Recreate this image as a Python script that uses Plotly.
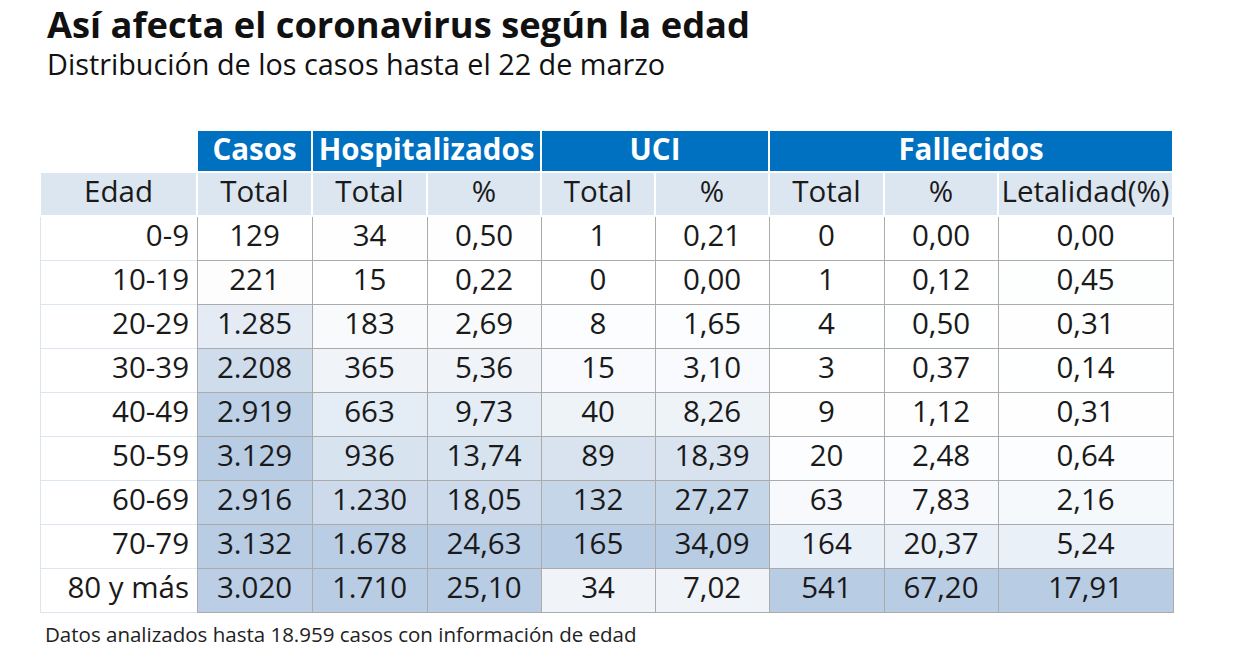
import plotly.graph_objects as go

W, H = 1240, 659
OFF = 8  # page body margin of the browser

title = "Así afecta el coronavirus según la edad"
subtitle = "Distribución de los casos hasta el 22 de marzo"
footer = "Datos analizados hasta 18.959 casos con información de edad"

groups = ["", "Casos", "Hospitalizados", "UCI", "Fallecidos"]
subheaders = ["Edad", "Total", "Total", "%", "Total", "%", "Total", "%", "Letalidad(%)"]

edad = ["0-9", "10-19", "20-29", "30-39", "40-49", "50-59", "60-69", "70-79", "80 y más"]
casos_total = [129, 221, 1285, 2208, 2919, 3129, 2916, 3132, 3020]
hosp_total = [34, 15, 183, 365, 663, 936, 1230, 1678, 1710]
hosp_pct = [0.50, 0.22, 2.69, 5.36, 9.73, 13.74, 18.05, 24.63, 25.10]
uci_total = [1, 0, 8, 15, 40, 89, 132, 165, 34]
uci_pct = [0.21, 0.00, 1.65, 3.10, 8.26, 18.39, 27.27, 34.09, 7.02]
fall_total = [0, 1, 4, 3, 9, 20, 63, 164, 541]
fall_pct = [0.00, 0.12, 0.50, 0.37, 1.12, 2.48, 7.83, 20.37, 67.20]
letalidad = [0.00, 0.45, 0.31, 0.14, 0.31, 0.64, 2.16, 5.24, 17.91]

BLUE = "#0070C0"
LIGHT = "#DCE6F1"
GRID = "#ABABAB"
LO = (255, 255, 255)
HI = (184, 204, 228)


def fmt_int(v):
    return f"{v:,}".replace(",", ".")


def fmt_dec(v):
    return f"{v:.2f}".replace(".", ",")


def scale(col):
    lo, hi = min(col), max(col)
    out = []
    for v in col:
        t = 0 if hi == lo else (v - lo) / (hi - lo)
        c = [round(LO[i] + (HI[i] - LO[i]) * t) for i in range(3)]
        out.append(f"rgb({c[0]},{c[1]},{c[2]})")
    return out


numeric_cols = [casos_total, hosp_total, hosp_pct, uci_total, uci_pct,
                fall_total, fall_pct, letalidad]
is_int = [True, True, False, True, False, True, False, False]

cell_values = [edad] + [
    [fmt_int(v) for v in c] if ii else [fmt_dec(v) for v in c]
    for c, ii in zip(numeric_cols, is_int)
]
cell_fills = [["white"] * len(edad)] + [scale(c) for c in numeric_cols]

colw = [157, 115, 115, 114, 114, 114, 115, 114, 175]
groupw = [157, 115, 229, 228, 404]


def px(x):
    return (x - OFF) / W


def py(y):
    return 1 - (y - OFF) / H


FONT = "Open Sans"
TS = 29.5

fig = go.Figure()

# Group header row (its single empty body row is hidden under the second table)
fig.add_trace(go.Table(
    domain=dict(x=[px(40), px(1173)], y=[py(230), py(130)]),
    columnwidth=groupw,
    header=dict(
        values=groups,
        fill_color=["white"] + [BLUE] * 4,
        line=dict(color="white", width=2),
        font=dict(family=FONT, size=TS, color="white", weight="bold"),
        align="center",
        height=42,
    ),
    cells=dict(values=[[""] for _ in groups], height=20,
               line=dict(color="white", width=0), fill_color="white"),
))

# Sub-header + data
fig.add_trace(go.Table(
    domain=dict(x=[px(40), px(1173)], y=[py(640), py(172)]),
    columnwidth=colw,
    header=dict(
        values=subheaders,
        fill_color=LIGHT,
        line=dict(color="white", width=2),
        font=dict(family=FONT, size=TS, color="#1a1a1a"),
        align="center",
        height=44,
    ),
    cells=dict(
        values=cell_values,
        fill_color=cell_fills,
        line=dict(color=[LIGHT] + [GRID] * 8, width=1),
        font=dict(family=FONT, size=TS, color="#1a1a1a"),
        align=["right"] + ["center"] * 8,
        height=44,
    ),
))

fig.add_annotation(text=f"<b>{title}</b>", x=px(45), y=py(24),
                   xref="paper", yref="paper", xanchor="left", yanchor="middle",
                   showarrow=False, font=dict(family=FONT, size=36.3, color="#111111"))
fig.add_annotation(text=subtitle, x=px(45), y=py(63),
                   xref="paper", yref="paper", xanchor="left", yanchor="middle",
                   showarrow=False, font=dict(family=FONT, size=28.8, color="#111111"))
fig.add_annotation(text=footer, x=px(43), y=py(634),
                   xref="paper", yref="paper", xanchor="left", yanchor="middle",
                   showarrow=False, font=dict(family=FONT, size=20.5, color="#222222"))

fig.update_layout(width=W, height=H, margin=dict(l=0, r=0, t=0, b=0),
                  paper_bgcolor="white", plot_bgcolor="white")

fig.write_html("out.html")
